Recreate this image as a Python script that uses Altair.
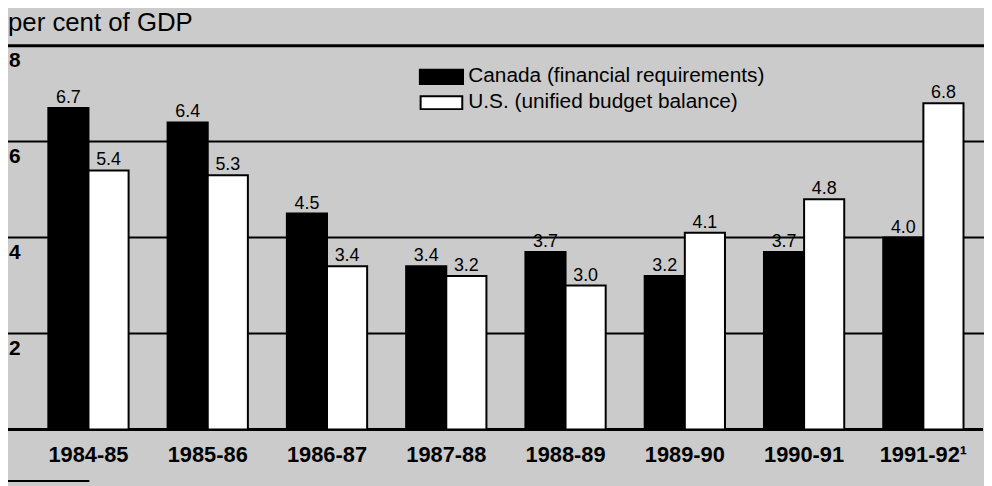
import altair as alt
import pandas as pd

years = ["1984-85", "1985-86", "1986-87", "1987-88", "1988-89", "1989-90", "1990-91", "1991-92¹"]
canada = [6.7, 6.4, 4.5, 3.4, 3.7, 3.2, 3.7, 4.0]
us = [5.4, 5.3, 3.4, 3.2, 3.0, 4.1, 4.8, 6.8]
series = ["Canada (financial requirements)", "U.S. (unified budget balance)"]
grid_values = [2, 4, 6, 8]
grid_widths = [2, 2, 2, 3]
y_title = "per cent of GDP"

rows = []
for i, yr in enumerate(years):
    rows.append({"year": yr, "series": series[0], "value": canada[i], "label": f"{canada[i]:.1f}"})
    rows.append({"year": yr, "series": series[1], "value": us[i], "label": f"{us[i]:.1f}"})
df = pd.DataFrame(rows)
grid_df = pd.DataFrame({"v": grid_values, "t": [str(v) for v in grid_values], "w": grid_widths})
one = pd.DataFrame({"a": [0]})

W, H = 962, 387
FONT = "Liberation Sans"
BG = "#cbcbcb"

yscale = alt.Scale(domain=[0, 8], nice=False, zero=True)
xenc = alt.X(
    "year:N", sort=years,
    scale=alt.Scale(paddingInner=0.327, paddingOuter=0.1635),
    axis=alt.Axis(title=None, labelFontSize=22, labelFontWeight="bold", labelFont=FONT,
                  labelColor="black", domain=False, ticks=False, labelPadding=15, labelAngle=0),
)
xoff = alt.XOffset("series:N", sort=series, scale=alt.Scale(paddingInner=0, paddingOuter=0))

grid = alt.Chart(grid_df).mark_rule(color="black").encode(
    y=alt.Y("v:Q", scale=yscale, axis=None),
    x=alt.value(-21), x2=alt.value(W + 2),
    strokeWidth=alt.StrokeWidth("w:Q", scale=None, legend=None),
)
tick_text = alt.Chart(grid_df).mark_text(
    align="left", baseline="middle", dy=16, fontSize=21, fontWeight="bold", font=FONT, color="black"
).encode(y=alt.Y("v:Q", scale=yscale, axis=None), x=alt.value(-20), text="t:N")

base_rule = alt.Chart(one).mark_rule(color="black", strokeWidth=3).encode(
    y=alt.value(H), x=alt.value(-24), x2=alt.value(W)
)
foot_rule = alt.Chart(one).mark_rule(color="black", strokeWidth=2).encode(
    y=alt.value(439), x=alt.value(-21), x2=alt.value(61)
)

bars = alt.Chart(df).mark_bar(stroke="black", strokeWidth=2).encode(
    x=xenc, xOffset=xoff,
    y=alt.Y("value:Q", scale=yscale, axis=None),
    fill=alt.Fill("series:N", sort=series, scale=alt.Scale(domain=series, range=["black", "white"]), legend=None),
)
labels = alt.Chart(df).mark_text(dy=-5, fontSize=18, font=FONT, color="black", baseline="alphabetic").encode(
    x=xenc, xOffset=xoff,
    y=alt.Y("value:Q", scale=yscale, axis=None),
    text="label:N",
)

title = alt.Chart(one).mark_text(align="left", baseline="alphabetic", fontSize=26, font=FONT, color="black").encode(
    x=alt.value(-21), y=alt.value(-15), text=alt.value(y_title)
)

leg1_box = alt.Chart(one).mark_rect(fill="black", stroke="black", strokeWidth=1.5).encode(
    x=alt.value(394), x2=alt.value(438), y=alt.value(24), y2=alt.value(39)
)
leg2_box = alt.Chart(one).mark_rect(fill="white", stroke="black", strokeWidth=2).encode(
    x=alt.value(395), x2=alt.value(437), y=alt.value(51), y2=alt.value(64)
)
leg1_txt = alt.Chart(one).mark_text(align="left", baseline="middle", fontSize=21, font=FONT, color="black").encode(
    x=alt.value(443), y=alt.value(31), text=alt.value(series[0])
)
leg2_txt = alt.Chart(one).mark_text(align="left", baseline="middle", fontSize=21, font=FONT, color="black").encode(
    x=alt.value(443), y=alt.value(57), text=alt.value(series[1])
)

chart = alt.layer(
    grid, base_rule, bars, labels, tick_text, foot_rule, title,
    leg1_box, leg2_box, leg1_txt, leg2_txt
).properties(
    width=W, height=H,
    padding={"left": 21, "top": 36, "right": 1, "bottom": 55},
    autosize=alt.AutoSizeParams(type="none"),
    background=BG,
).configure_view(stroke=None)

chart.save("out.html", embed_options={"renderer": "svg", "actions": False})
